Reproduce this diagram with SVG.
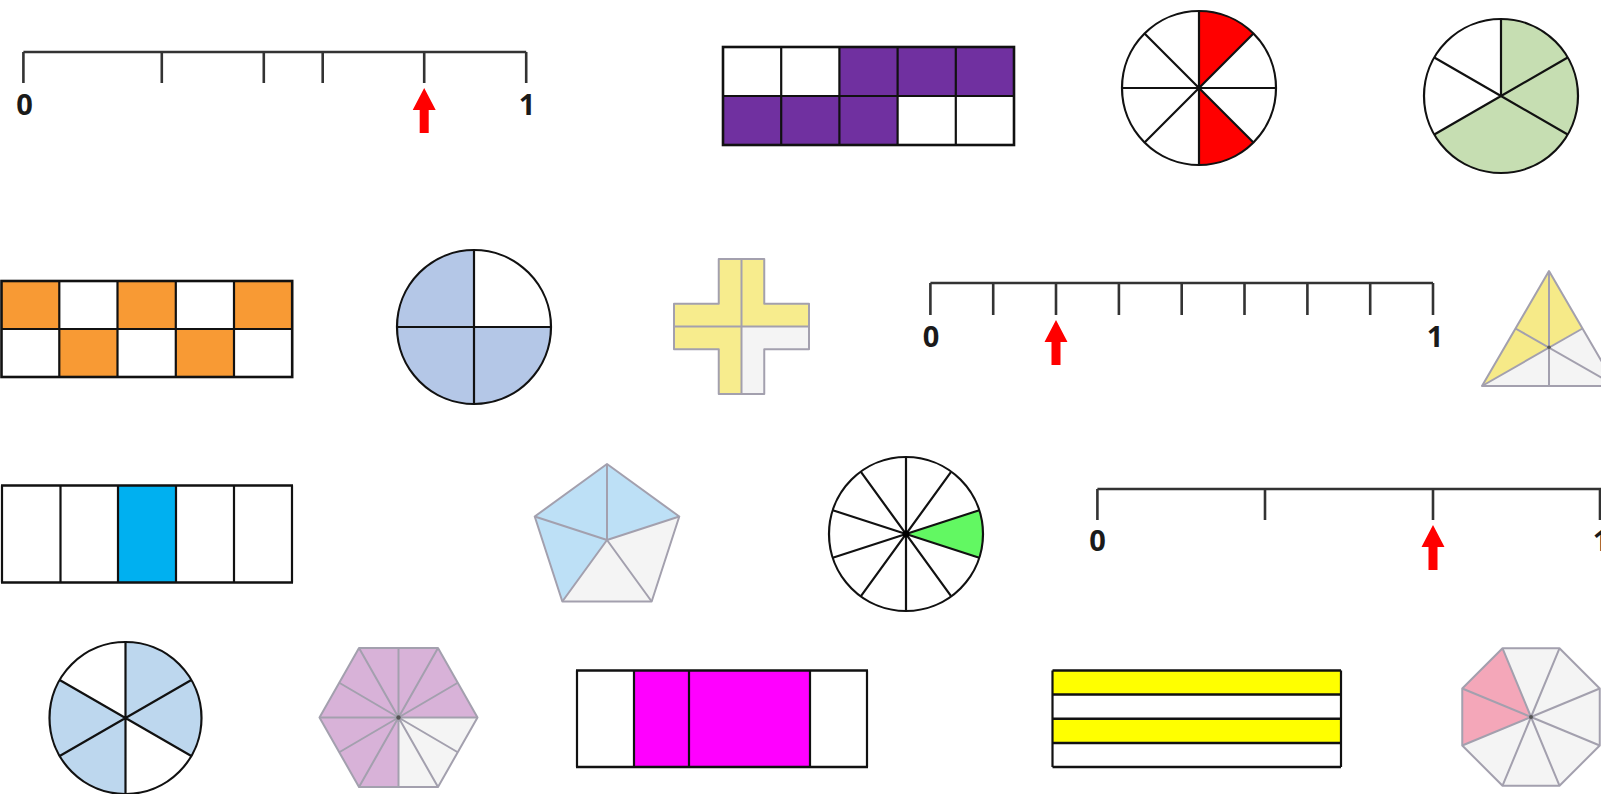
<svg xmlns="http://www.w3.org/2000/svg" xmlns:xlink="http://www.w3.org/1999/xlink" width="1601" height="794" viewBox="0 0 1601 794">
<defs>
<style>
.nl{stroke:#333;stroke-width:2.6;fill:none;stroke-linecap:butt}
.lbl{font-family:"Open Sans","Liberation Sans",sans-serif;font-weight:700;font-size:29px;fill:#1a1a1a;text-anchor:middle}
.arr{fill:#ff0000}
.k{stroke:#111;stroke-width:2.2;fill:none}
.ko{stroke:#111;stroke-width:2.6;fill:none}
.g{stroke:#a3a0ae;stroke-width:2;fill:none;stroke-linejoin:round}
.gf{fill:#f4f4f4}
</style>
<path id="arrow" d="M0,0 L11.5,22 L4.5,22 L4.5,45 L-4.5,45 L-4.5,22 L-11.5,22 Z"/>
</defs>
<rect width="1601" height="794" fill="#ffffff"/>

<g id="numberline1">
<path class="nl" d="M23.4,52 H526.2 M23.4,52 V83 M161.8,52 V83 M263.8,52 V83 M322.7,52 V83 M424.2,52 V83 M526.2,52 V83"/>
<text class="lbl" x="24.5" y="115">0</text>
<text class="lbl" x="527" y="115">1</text>
<use xlink:href="#arrow" class="arr" x="424.2" y="88"/>
</g>

<g id="purple-grid">
<rect x="781.2" y="47" width="232.8" height="49" fill="#7030a0"/>
<rect x="839.4" y="47" width="174.6" height="49" fill="#7030a0"/>
<rect x="723" y="96" width="174.6" height="49" fill="#7030a0"/>
<rect x="723" y="47" width="116.4" height="49" fill="#ffffff"/>
<path class="k" d="M723,96 H1014 M781.2,47 V145 M839.4,47 V145 M897.6,47 V145 M955.8,47 V145"/>
<rect class="ko" x="723" y="47" width="291" height="98"/>
</g>

<g id="red-circle">
<circle cx="1199" cy="88" r="77" fill="#ffffff"/>
<path d="M1199,88 L1199,11 A77,77 0 0 1 1253.45,33.55 Z" fill="#ff0000"/>
<path d="M1199,88 L1253.45,142.45 A77,77 0 0 1 1199,165 Z" fill="#ff0000"/>
<path class="k" d="M1199,11 V165 M1122,88 H1276 M1144.55,33.55 L1253.45,142.45 M1253.45,33.55 L1144.55,142.45"/>
<circle class="k" cx="1199" cy="88" r="77"/>
</g>

<g id="green-circle">
<circle cx="1501" cy="96" r="77" fill="#ffffff"/>
<path d="M1501,96 L1501,19 A77,77 0 1 1 1434.32,134.5 Z" fill="#c6deb2"/>
<path class="k" d="M1501,96 V19 M1501,96 L1567.68,57.5 M1501,96 L1567.68,134.5 M1501,96 L1434.32,134.5 M1501,96 L1434.32,57.5"/>
<circle class="k" cx="1501" cy="96" r="77"/>
</g>

<g id="orange-grid">
<rect x="1" y="281" width="58.3" height="48" fill="#f89a34"/>
<rect x="117.5" y="281" width="58.3" height="48" fill="#f89a34"/>
<rect x="234" y="281" width="58.2" height="48" fill="#f89a34"/>
<rect x="59.3" y="329" width="58.2" height="48" fill="#f89a34"/>
<rect x="175.8" y="329" width="58.2" height="48" fill="#f89a34"/>
<path class="k" d="M1,329 H292.2 M59.3,281 V377 M117.5,281 V377 M175.8,281 V377 M234,281 V377"/>
<rect class="ko" x="1.5" y="281" width="290.7" height="96"/>
</g>

<g id="blue-quarters">
<circle cx="474" cy="327" r="77" fill="#b4c7e7"/>
<path d="M474,327 L474,250 A77,77 0 0 1 551,327 Z" fill="#ffffff"/>
<path class="k" d="M474,250 V404 M397,327 H551"/>
<circle class="k" cx="474" cy="327" r="77"/>
</g>

<g id="yellow-cross">
<path d="M718.75,259 H764.25 V303.75 H809 V349.25 H764.25 V394 H718.75 V349.25 H674 V303.75 H718.75 Z" fill="#f7ec8d"/>
<path class="gf" d="M741.5,326.5 H809 V349.25 H764.25 V394 H741.5 Z"/>
<path class="g" d="M741.5,259 V394 M674,326.5 H809"/>
<path class="g" d="M718.75,259 H764.25 V303.75 H809 V349.25 H764.25 V394 H718.75 V349.25 H674 V303.75 H718.75 Z"/>
</g>

<g id="numberline2">
<path class="nl" d="M930.4,283 H1433 M930.4,283 V315 M993.2,283 V315 M1056,283 V315 M1118.9,283 V315 M1181.7,283 V315 M1244.5,283 V315 M1307.4,283 V315 M1370.2,283 V315 M1433,283 V315"/>
<text class="lbl" x="931" y="347">0</text>
<text class="lbl" x="1435" y="347">1</text>
<use xlink:href="#arrow" class="arr" x="1056" y="320"/>
</g>

<g id="yellow-triangle">
<path d="M1549,271 L1582,328.3 L1549,347.3 L1482,386 Z" fill="#f6ea88"/>
<path class="gf" d="M1549,347.3 L1482,386 L1616,386 L1582,328.3 Z"/>
<path class="g" d="M1549,271 V386 M1515.5,328.5 L1616,386 M1582.5,328.5 L1482,386"/>
<path class="g" d="M1549,271 L1616,386 L1482,386 Z"/>
<circle cx="1549" cy="347.3" r="1.8" fill="#555"/>
</g>

<g id="blue-column">
<rect x="118" y="485.5" width="58" height="97" fill="#00b0f0"/>
<path class="k" d="M60.5,485.5 V582.5 M118,485.5 V582.5 M176,485.5 V582.5 M234,485.5 V582.5 M2,485.5 V582.5 M292,485.5 V582.5"/>
<path class="ko" d="M1,485.5 H293 M1,582.5 H293"/>
</g>

<g id="pentagon">
<path d="M679.28,516.51 L607,464 L534.72,516.51 L562.33,601.49 L607,540 Z" fill="#bde0f6"/>
<path class="gf" d="M607,540 L562.33,601.49 L651.67,601.49 L679.28,516.51 Z"/>
<path class="g" d="M607,540 L607,464 M607,540 L679.28,516.51 M607,540 L651.67,601.49 M607,540 L562.33,601.49 M607,540 L534.72,516.51"/>
<path class="g" d="M607,464 L679.28,516.51 L651.67,601.49 L562.33,601.49 L534.72,516.51 Z"/>
</g>

<g id="green-tenths">
<circle cx="906" cy="534" r="77" fill="#ffffff"/>
<path d="M906,534 L979.23,510.21 A77,77 0 0 1 979.23,557.79 Z" fill="#62f862"/>
<path class="k" d="M906,457 V611 M951.26,471.71 L860.74,596.29 M979.23,510.21 L832.77,557.79 M979.23,557.79 L832.77,510.21 M951.26,596.29 L860.74,471.71"/>
<circle class="k" cx="906" cy="534" r="77"/>
<circle cx="906" cy="534" r="3.2" fill="#000"/>
</g>

<g id="numberline3">
<path class="nl" d="M1097.4,489 H1601 M1097.4,489 V520 M1265,489 V520 M1433,489 V520 M1600,489 V520"/>
<text class="lbl" x="1097.5" y="551">0</text>
<text class="lbl" x="1601" y="551">1</text>
<use xlink:href="#arrow" class="arr" x="1433" y="525"/>
</g>

<g id="blue-sixths">
<circle cx="125.5" cy="718" r="76" fill="#bdd7ee"/>
<path d="M125.5,718 L191.32,756 A76,76 0 0 1 125.5,794 Z" fill="#ffffff"/>
<path d="M125.5,718 L59.68,680 A76,76 0 0 1 125.5,642 Z" fill="#ffffff"/>
<path class="k" d="M125.5,642 V794 M59.68,680 L191.32,756 M191.32,680 L59.68,756"/>
<circle class="k" cx="125.5" cy="718" r="76"/>
</g>

<g id="purple-hexagon">
<path d="M319.5,717.5 L359,648 L438,648 L477.5,717.5 L438,787 L359,787 Z" fill="#d8b2d8"/>
<path class="gf" d="M398.5,717.5 L477.5,717.5 L438,787 L398.5,787 Z"/>
<path class="g" d="M398.5,717.5 L319.5,717.5 M398.5,717.5 L359,648 M398.5,717.5 L438,648 M398.5,717.5 L477.5,717.5 M398.5,717.5 L438,787 M398.5,717.5 L359,787 M398.5,717.5 L398.5,648 M398.5,717.5 L457.75,682.75 M398.5,717.5 L457.75,752.25 M398.5,717.5 L398.5,787 M398.5,717.5 L339.25,752.25 M398.5,717.5 L339.25,682.75"/>
<path class="g" d="M319.5,717.5 L359,648 L438,648 L477.5,717.5 L438,787 L359,787 Z"/>
<circle cx="398.5" cy="717.5" r="2.2" fill="#555"/>
</g>

<g id="magenta-bar">
<rect x="634" y="670.5" width="176" height="96.5" fill="#ff00ff"/>
<path class="k" d="M577,670.5 V767 M634,670.5 V767 M689,670.5 V767 M810,670.5 V767 M867,670.5 V767"/>
<path class="ko" d="M576,670.5 H868 M576,767 H868"/>
</g>

<g id="yellow-stripes">
<rect x="1052.5" y="670.5" width="288.5" height="24" fill="#ffff00"/>
<rect x="1052.5" y="718.75" width="288.5" height="24.25" fill="#ffff00"/>
<path class="k" d="M1052.5,670.5 V767 M1341,670.5 V767"/>
<path class="ko" d="M1052.5,670.5 H1341 M1052.5,694.5 H1341 M1052.5,718.75 H1341 M1052.5,743 H1341 M1052.5,767 H1341"/>
</g>

<g id="pink-octagon">
<path class="gf" d="M1502.53,648.26 L1559.47,648.26 L1599.74,688.53 L1599.74,745.47 L1559.47,785.74 L1502.53,785.74 L1462.26,745.47 L1462.26,688.53 Z"/>
<path d="M1531,717 L1502.53,648.26 L1462.26,688.53 L1462.26,745.47 Z" fill="#f4a7b9"/>
<path class="g" d="M1531,717 L1502.53,648.26 M1531,717 L1559.47,648.26 M1531,717 L1599.74,688.53 M1531,717 L1599.74,745.47 M1531,717 L1559.47,785.74 M1531,717 L1502.53,785.74 M1531,717 L1462.26,745.47 M1531,717 L1462.26,688.53"/>
<path class="g" d="M1502.53,648.26 L1559.47,648.26 L1599.74,688.53 L1599.74,745.47 L1559.47,785.74 L1502.53,785.74 L1462.26,745.47 L1462.26,688.53 Z"/>
<circle cx="1531" cy="717" r="2" fill="#555"/>
</g>
</svg>
